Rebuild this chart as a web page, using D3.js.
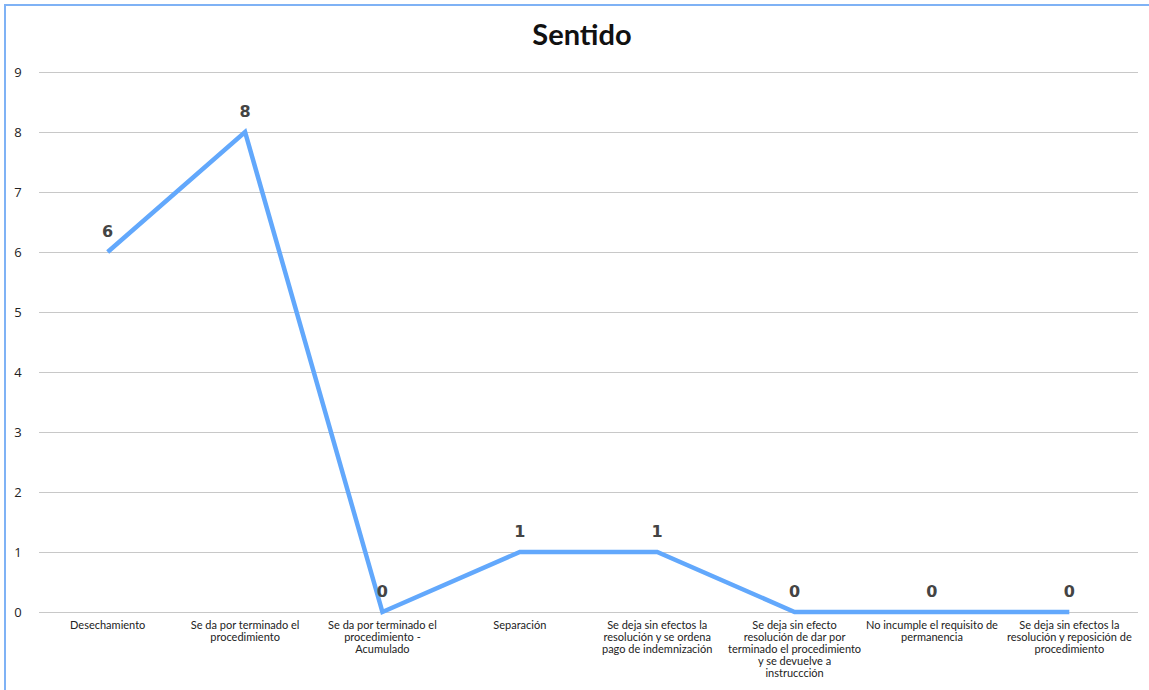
<!DOCTYPE html>
<html>
<head>
<meta charset="utf-8">
<script src="https://cdn.jsdelivr.net/npm/d3@7"></script>
<style>
  body { margin: 0; background: #fff; }
  svg { display: block; }
</style>
</head>
<body>
<svg width="1149" height="690"></svg>
<script>
var categories = [
  "Desechamiento",
  "Se da por terminado el procedimiento",
  "Se da por terminado el procedimiento - Acumulado",
  "Separación",
  "Se deja sin efectos la resolución y se ordena pago de indemnización",
  "Se deja sin efecto resolución de dar por terminado el procedimiento y se devuelve a instruccción",
  "No incumple el requisito de permanencia",
  "Se deja sin efectos la resolución y reposición de procedimiento"
];
// label lines as they wrap in the picture
var categoryLines = [
  ["Desechamiento"],
  ["Se da por terminado el", "procedimiento"],
  ["Se da por terminado el", "procedimiento -", "Acumulado"],
  ["Separación"],
  ["Se deja sin efectos la", "resolución y se ordena", "pago de indemnización"],
  ["Se deja sin efecto", "resolución de dar por", "terminado el procedimiento", "y se devuelve a", "instruccción"],
  ["No incumple el requisito de", "permanencia"],
  ["Se deja sin efectos la", "resolución y reposición de", "procedimiento"]
];
var values = [6, 8, 0, 1, 1, 0, 0, 0];
var yTicks = [0, 1, 2, 3, 4, 5, 6, 7, 8, 9];

var svg = d3.select("svg");
var margin = {left: 39, right: 11, top: 72, bottom: 78};
var width = 1149, height = 690;

var font = "Lato, 'Open Sans', sans-serif";
var line_color = "#62a8fc";

// frame
svg.append("path")
   .attr("d", "M5,690 V5 H1149")
   .attr("fill", "none")
   .attr("stroke", "#7fb2f5")
   .attr("stroke-width", 2);

var x = d3.scalePoint()
          .domain(categories)
          .range([margin.left, width - margin.right])
          .padding(0.5);

var y = d3.scaleLinear()
          .domain([0, 9])
          .range([height - margin.bottom, margin.top]);

// gridlines
svg.append("g")
   .selectAll("line")
   .data(yTicks)
   .enter()
   .append("line")
   .attr("x1", margin.left)
   .attr("x2", width - margin.right)
   .attr("y1", function(d) { return y(d) + 0.5; })
   .attr("y2", function(d) { return y(d) + 0.5; })
   .attr("stroke", "#c8c8c8")
   .attr("stroke-width", 1);

// y tick labels
svg.append("g")
   .selectAll("text")
   .data(yTicks)
   .enter()
   .append("text")
   .attr("x", 18)
   .attr("y", function(d) { return y(d); })
   .attr("dy", "0.35em")
   .attr("text-anchor", "middle")
   .style("font-family", "'Open Sans', sans-serif")
   .style("font-size", "13px")
   .style("fill", "#222")
   .text(function(d) { return d; });

// x labels
var xl = svg.append("g")
   .selectAll("text")
   .data(categories)
   .enter()
   .append("text")
   .attr("x", function(d) { return x(d); })
   .attr("y", y(0) + 17)
   .attr("text-anchor", "middle")
   .style("font-family", font)
   .style("font-size", "11px")
   .style("fill", "#222");

xl.selectAll("tspan")
  .data(function(d, i) { return categoryLines[i]; })
  .enter()
  .append("tspan")
  .attr("x", function() { return x(d3.select(this.parentNode).datum()); })
  .attr("dy", function(d, j) { return j == 0 ? 0 : 12; })
  .text(function(d) { return d; });

// line
var line = d3.line()
             .x(function(d, i) { return x(categories[i]); })
             .y(function(d) { return y(d); });

svg.append("path")
   .datum(values)
   .attr("d", line)
   .attr("fill", "none")
   .attr("stroke", line_color)
   .attr("stroke-width", 4.5)
   .attr("stroke-linejoin", "miter");

// data labels
svg.append("g")
   .selectAll("text")
   .data(values)
   .enter()
   .append("text")
   .attr("x", function(d, i) { return x(categories[i]); })
   .attr("y", function(d) { return y(d) - 15; })
   .attr("text-anchor", "middle")
   .style("font-family", "'DejaVu Sans', sans-serif")
   .style("font-weight", "bold")
   .style("font-size", "16px")
   .style("fill", "#444")
   .text(function(d) { return d; });

// title
svg.append("text")
   .attr("x", 582)
   .attr("y", 45)
   .attr("text-anchor", "middle")
   .style("font-family", font)
   .style("font-weight", "bold")
   .style("font-size", "29px")
   .style("fill", "#111")
   .text("Sentido");
</script>
</body>
</html>
